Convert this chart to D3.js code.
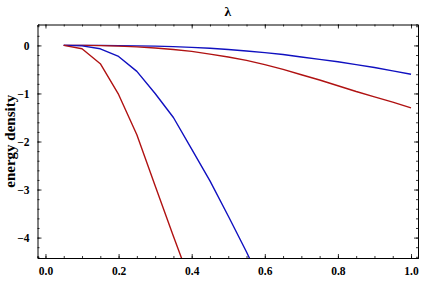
<!DOCTYPE html>
<html>
<head>
<meta charset="utf-8">
<script src="https://cdn.jsdelivr.net/npm/d3@7"></script>
<style>
  body { margin: 0; background: #fff; }
  svg text { font-family: "Liberation Serif", "Times New Roman", serif; font-weight: bold; }
</style>
</head>
<body>
<svg id="chart" width="436" height="289"></svg>
<script>
// sample points along lambda
var lambdaSteep = [0.05, 0.1, 0.15, 0.2, 0.25, 0.3, 0.35, 0.4];
var redSteep = [0, -0.07, -0.38, -1.02, -1.86, -2.92, -3.97, -5.0];
var lambdaBlueSteep = [0.05, 0.1, 0.15, 0.2, 0.25, 0.3, 0.35, 0.4, 0.45, 0.5, 0.55, 0.6];
var blueSteep = [0, -0.01, -0.07, -0.23, -0.54, -1.0, -1.5, -2.16, -2.82, -3.55, -4.3, -5.1];
var lambdaFull = [0.05, 0.1, 0.15, 0.2, 0.25, 0.3, 0.35, 0.4, 0.45, 0.5,
                  0.55, 0.6, 0.65, 0.7, 0.75, 0.8, 0.85, 0.9, 0.95, 1.0];
var blueShallow = [0, 0, 0, -0.005, -0.01, -0.015, -0.025, -0.04, -0.06, -0.085,
                   -0.115, -0.15, -0.19, -0.24, -0.29, -0.34, -0.40, -0.46, -0.53, -0.60];
var redShallow = [0, 0, -0.005, -0.015, -0.03, -0.055, -0.085, -0.125, -0.18, -0.24,
                  -0.31, -0.40, -0.50, -0.61, -0.72, -0.84, -0.96, -1.07, -1.18, -1.30];
var xTicks = [0, 0.2, 0.4, 0.6, 0.8, 1.0];
var yTicks = [0, -1, -2, -3, -4];

var svg = d3.select('#chart');
var margin = {left: 37.5, top: 24.5, right: 418, bottom: 258};

var x = d3.scaleLinear().domain([-0.0218, 1.0191]).range([margin.left, margin.right]);
var y = d3.scaleLinear().domain([-4.425, 0.4355]).range([margin.bottom, margin.top]);

svg.append('clipPath').attr('id', 'clip')
  .append('rect')
  .attr('x', margin.left).attr('y', margin.top)
  .attr('width', margin.right - margin.left)
  .attr('height', margin.bottom - margin.top);

var line = d3.line()
  .x(function(d) { return x(d[0]); })
  .y(function(d) { return y(d[1]); });

var red = '#b01212', blue = '#1010c0';
var series = [
  {xs: lambdaFull, ys: blueShallow, color: blue},
  {xs: lambdaFull, ys: redShallow, color: red},
  {xs: lambdaBlueSteep, ys: blueSteep, color: blue},
  {xs: lambdaSteep, ys: redSteep, color: red}
];

var g = svg.append('g').attr('clip-path', 'url(#clip)');
series.forEach(function(s) {
  g.append('path')
    .datum(d3.zip(s.xs, s.ys))
    .attr('fill', 'none')
    .attr('stroke', s.color)
    .attr('stroke-width', 1.4)
    .attr('stroke-linejoin', 'round')
    .attr('d', line);
});

// frame with inward ticks, mathematica style
var minorX = d3.range(0, 1.0001, 0.05);
var minorY = d3.range(-4.4, 0.41, 0.2);

function frame(sel) {
  sel.select('.domain').attr('stroke', '#000').attr('stroke-width', 1);
  sel.selectAll('.tick line').attr('stroke', '#000').attr('stroke-width', 0.8);
}
function noDomain(sel) { sel.select('.domain').remove(); }

svg.append('g').attr('transform', 'translate(0,' + margin.bottom + ')')
  .call(d3.axisBottom(x).tickValues(minorX).tickSize(-2).tickFormat('')).call(frame);
svg.append('g').attr('transform', 'translate(0,' + margin.top + ')')
  .call(d3.axisTop(x).tickValues(minorX).tickSize(-2).tickFormat('')).call(frame);
svg.append('g').attr('transform', 'translate(' + margin.left + ',0)')
  .call(d3.axisLeft(y).tickValues(minorY).tickSize(-2).tickFormat('')).call(frame);
svg.append('g').attr('transform', 'translate(' + margin.right + ',0)')
  .call(d3.axisRight(y).tickValues(minorY).tickSize(-2).tickFormat('')).call(frame);

// major ticks with labels
var xMajor = d3.axisBottom(x).tickValues(xTicks).tickSize(-4).tickPadding(9)
  .tickFormat(d3.format('.1f'));
var yMajor = d3.axisLeft(y).tickValues(yTicks).tickSize(-4).tickPadding(8)
  .tickFormat(function(d) { return d === 0 ? '0' : '\u2212' + Math.abs(d); });

svg.append('g').attr('transform', 'translate(0,' + margin.bottom + ')').call(xMajor)
  .call(noDomain).call(frame)
  .attr('font-family', null)
  .selectAll('text').attr('font-size', 11.5).attr('fill', '#000');
svg.append('g').attr('transform', 'translate(' + margin.left + ',0)').call(yMajor)
  .call(noDomain).call(frame)
  .attr('font-family', null)
  .selectAll('text').attr('font-size', 11.5).attr('fill', '#000');

// top/right major ticks
svg.append('g').attr('transform', 'translate(0,' + margin.top + ')')
  .call(d3.axisTop(x).tickValues(xTicks).tickSize(-4).tickFormat(''))
  .call(noDomain).call(frame);
svg.append('g').attr('transform', 'translate(' + margin.right + ',0)')
  .call(d3.axisRight(y).tickValues(yTicks).tickSize(-4).tickFormat(''))
  .call(noDomain).call(frame);

svg.append('text')
  .attr('x', (margin.left + margin.right) / 2)
  .attr('y', 16)
  .attr('text-anchor', 'middle')
  .attr('font-size', 13.5)
  .text('\u03bb');

svg.append('text')
  .attr('transform', 'translate(14.5,' + ((margin.top + margin.bottom) / 2) + ') rotate(-90)')
  .attr('text-anchor', 'middle')
  .attr('font-size', 15)
  .text('energy density');
</script>
</body>
</html>
